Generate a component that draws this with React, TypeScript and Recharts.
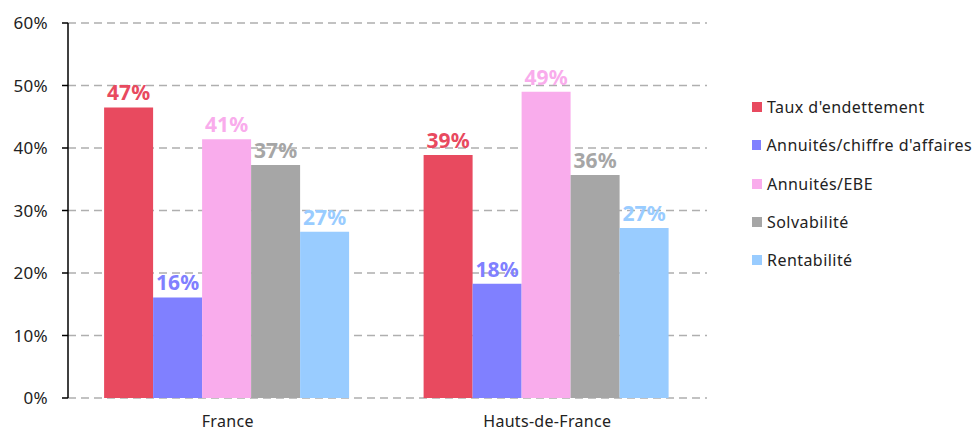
import React from "react";
import { BarChart, Bar, XAxis, YAxis, CartesianGrid, Legend, LabelList } from "recharts";

const categories = ["France", "Hauts-de-France"];
const seriesNames = ["Taux d'endettement", "Annuités/chiffre d'affaires", "Annuités/EBE", "Solvabilité", "Rentabilité"];
const tauxEndettement = [0.465, 0.389];
const annuitesCA = [0.161, 0.183];
const annuitesEBE = [0.414, 0.49];
const solvabilite = [0.373, 0.357];
const rentabilite = [0.266, 0.272];
const yTicks = [0, 0.1, 0.2, 0.3, 0.4, 0.5, 0.6];
const colors = ["#E84A5F", "#8080FF", "#F9ACEC", "#A6A6A6", "#99CCFF"];

const seriesValues = [tauxEndettement, annuitesCA, annuitesEBE, solvabilite, rentabilite];
const keys = ["s0", "s1", "s2", "s3", "s4"];

const data = categories.map((c, i) => {
  const row: any = { name: c, pos: i + 0.5 };
  keys.forEach((k, j) => (row[k] = seriesValues[j][i]));
  return row;
});

const FONT = "'Noto Sans', 'Open Sans', sans-serif";
const pct = (v: number) => `${Math.round(v * 100)}%`;

const LegendContent = () => (
  <div style={{ fontFamily: FONT, fontSize: 16, color: "#222", letterSpacing: 0.45 }}>
    {seriesNames.map((n, i) => (
      <div key={n} style={{ display: "flex", alignItems: "center", height: 38.3 }}>
        <span style={{ display: "inline-block", width: 10, height: 10, background: colors[i], marginRight: 5 }} />
        <span style={{ whiteSpace: "nowrap" }}>{n}</span>
      </div>
    ))}
  </div>
);

export default function App() {
  return (
    <div style={{ position: "absolute", left: 0, top: 0 }}>
      <BarChart
        width={973}
        height={432}
        data={data}
        margin={{ top: 23, right: 266, bottom: 0, left: 8 }}
        barCategoryGap="11.3%"
        barGap={0}
      >
        <CartesianGrid
          vertical={false}
          stroke="#AFAFAF"
          strokeDasharray="8 5"
          strokeWidth={1.5}
        />
        <XAxis
          xAxisId="b"
          type="number"
          dataKey="pos"
          domain={[0, 2]}
          ticks={[0, 1, 2]}
          tickFormatter={() => ""}
          tickSize={6}
          height={0}
          axisLine={{ stroke: "#000", strokeWidth: 1.5 }}
          tickLine={{ stroke: "#000", strokeWidth: 1.5 }}
        />
        <XAxis
          xAxisId="a"
          dataKey="name"
          type="category"
          height={34}
          axisLine={false}
          tickLine={false}
          tickSize={0}
          tickMargin={18}
          tick={{ fill: "#222", fontSize: 16, fontFamily: FONT, letterSpacing: 0.3 }}
        />
        <YAxis
          domain={[0, 0.6]}
          ticks={yTicks}
          tickFormatter={pct}
          width={60}
          tickSize={6}
          tickMargin={14}
          axisLine={{ stroke: "#000", strokeWidth: 1.5 }}
          tickLine={{ stroke: "#000", strokeWidth: 1.5 }}
          tick={{ fill: "#222", fontSize: 17, fontFamily: FONT, letterSpacing: 0.3 }}
        />
        <Legend
          layout="horizontal"
          verticalAlign="middle"
          content={<LegendContent />}
          wrapperStyle={{ left: 752, top: 88, width: 220, height: 200 }}
        />
        {keys.map((k, i) => (
          <Bar
            key={k}
            xAxisId="a"
            dataKey={k}
            name={seriesNames[i]}
            fill={colors[i]}
            isAnimationActive={false}
          >
            <LabelList
              dataKey={k}
              position="top"
              offset={7}
              formatter={(v: any) => pct(Number(v))}
              style={{ fill: colors[i], fontSize: 21, fontWeight: 700, fontFamily: FONT }}
            />
          </Bar>
        ))}
      </BarChart>
    </div>
  );
}
